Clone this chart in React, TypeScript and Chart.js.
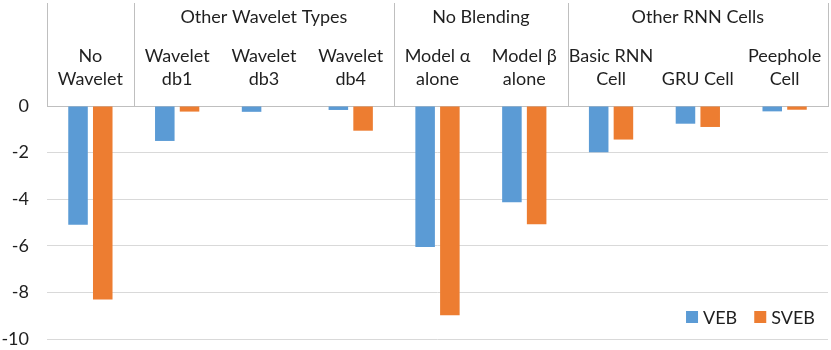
import React, { useEffect, useRef } from 'react';
import { Chart, registerables } from 'chart.js';

Chart.register(...registerables);

const categories: (string | string[])[] = [
  ['No', 'Wavelet'],
  ['Wavelet', 'db1'],
  ['Wavelet', 'db3'],
  ['Wavelet', 'db4'],
  ['Model α', 'alone'],
  ['Model β', 'alone'],
  ['Basic RNN', 'Cell'],
  'GRU Cell',
  ['Peephole', 'Cell'],
];
const groupLabels = ['', 'Other Wavelet Types', 'No Blending', 'Other RNN Cells'];
const groupSpans = [1, 3, 2, 3];
const seriesNames = ['VEB', 'SVEB'];
const seriesColors = ['#5B9BD5', '#ED7D31'];
const vebValues = [-5.1, -1.5, -0.25, -0.17, -6.05, -4.13, -1.99, -0.76, -0.23];
const svebValues = [-8.3, -0.24, 0, -1.06, -8.98, -5.08, -1.44, -0.9, -0.16];
const yMin = -10;
const yMax = 0;
const yStep = 2;

const FONT = 'Lato, "Open Sans", sans-serif';
const FONT_SIZE = 18;
const TEXT = '#1f1f1f';
const LINE = '#BFBFBF';

const headerPlugin = {
  id: 'header',
  afterDraw(chart: any) {
    const { ctx, chartArea } = chart;
    const xs = chart.scales.x;
    const n = categories.length;
    ctx.save();
    ctx.strokeStyle = LINE;
    ctx.lineWidth = 1;
    let idx = 0;
    const bounds: number[] = [chartArea.left];
    groupSpans.forEach((s) => {
      idx += s;
      const x = idx >= n ? chartArea.right : (xs.getPixelForValue(idx - 1) + xs.getPixelForValue(idx)) / 2;
      bounds.push(x);
    });
    bounds.forEach((x) => {
      const px = Math.round(x) + 0.5;
      ctx.beginPath();
      ctx.moveTo(px, 3);
      ctx.lineTo(px, chartArea.top);
      ctx.stroke();
    });
    ctx.fillStyle = TEXT;
    ctx.font = `${FONT_SIZE}px ${FONT}`;
    ctx.textAlign = 'center';
    ctx.textBaseline = 'middle';
    groupLabels.forEach((g, i) => {
      if (!g) return;
      ctx.fillText(g, (bounds[i] + bounds[i + 1]) / 2, 17);
    });

    // legend
    const box = 12;
    const gapBoxText = 5;
    const gapItems = 17;
    let right = 815;
    const y = 317;
    const widths = seriesNames.map((s) => ctx.measureText(s).width);
    const positions: number[] = [];
    for (let i = seriesNames.length - 1; i >= 0; i--) {
      const start = right - widths[i] - gapBoxText - box;
      positions[i] = start;
      right = start - gapItems;
    }
    ctx.textAlign = 'left';
    seriesNames.forEach((s, i) => {
      const x0 = positions[i];
      ctx.fillStyle = chart.data.datasets[i].backgroundColor;
      ctx.fillRect(x0, y - box / 2, box, box);
      ctx.fillStyle = TEXT;
      ctx.fillText(s, x0 + box + gapBoxText, y + 1);
    });
    ctx.restore();
  },
};

export default function App() {
  const ref = useRef<HTMLCanvasElement>(null);
  useEffect(() => {
    document.body.style.margin = '0';
    const chart = new Chart(ref.current!, {
      type: 'bar',
      data: {
        labels: categories as any,
        datasets: [
          {
            label: seriesNames[0],
            data: vebValues,
            backgroundColor: seriesColors[0],
            barPercentage: 0.79,
            categoryPercentage: 0.57,
          },
          {
            label: seriesNames[1],
            data: svebValues,
            backgroundColor: seriesColors[1],
            barPercentage: 0.79,
            categoryPercentage: 0.57,
          },
        ],
      },
      options: {
        responsive: false,
        animation: false,
        layout: { padding: { left: 0, right: 3, top: 0, bottom: 11 } },
        plugins: { legend: { display: false }, tooltip: { enabled: false } },
        scales: {
          x: {
            position: 'top',
            grid: { display: false, drawTicks: false },
            border: { display: true, color: LINE },
            ticks: {
              font: { family: FONT, size: FONT_SIZE, lineHeight: 23 / FONT_SIZE },
              color: TEXT,
              padding: 15,
              maxRotation: 0,
              autoSkip: false,
            },
            afterFit: (s: any) => {
              s.height = 106;
              s.paddingLeft = 0;
              s.paddingRight = 0;
            },
          },
          y: {
            min: yMin,
            max: yMax,
            ticks: {
              stepSize: yStep,
              font: { family: FONT, size: FONT_SIZE },
              color: TEXT,
              padding: 18,
            },
            grid: { color: '#D9D9D9', drawTicks: false },
            border: { display: false },
            afterFit: (s: any) => {
              s.width = 47;
              s.paddingTop = 0;
              s.paddingBottom = 0;
            },
          },
        },
      },
      plugins: [headerPlugin],
    });
    return () => chart.destroy();
  }, []);
  return (
    <div style={{ width: 831, height: 350 }}>
      <canvas ref={ref} width={831} height={350} />
    </div>
  );
}
